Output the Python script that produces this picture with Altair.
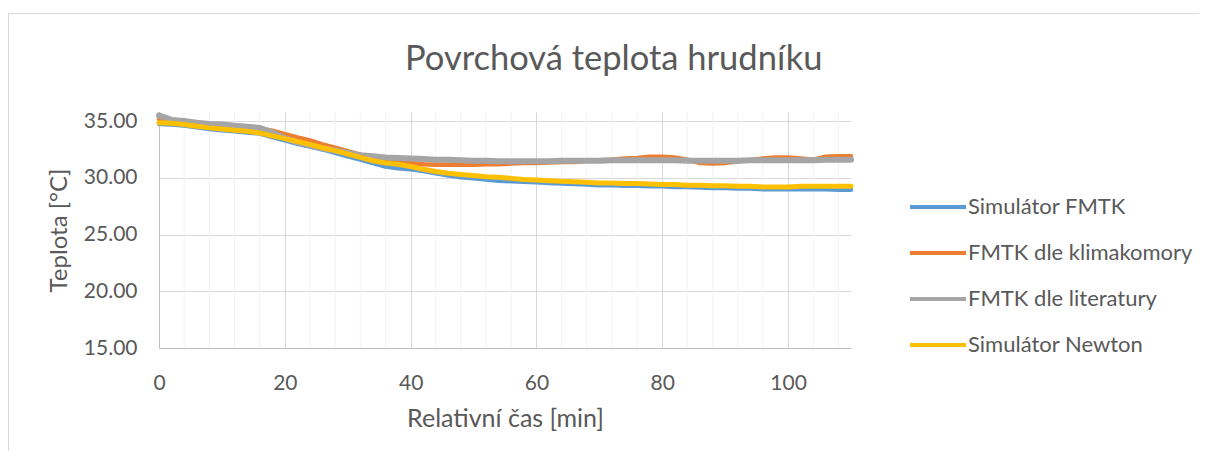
import altair as alt
import pandas as pd

# ---- data ----
t = [0, 2, 4, 6, 8, 10, 12, 14, 16, 18, 20, 22, 24, 26, 28, 30, 32, 34, 36, 38,
     40, 42, 44, 46, 48, 50, 52, 54, 56, 58, 60, 62, 64, 66, 68, 70, 72, 74, 76, 78,
     80, 82, 84, 86, 88, 90, 92, 94, 96, 98, 100, 102, 104, 106, 108, 110]

sim_fmtk = [34.75, 34.7, 34.6, 34.45, 34.3, 34.2, 34.1, 34.0, 33.9, 33.6,
            33.3, 33.0, 32.75, 32.5, 32.2, 31.9, 31.6, 31.3, 31.0, 30.85,
            30.75, 30.6, 30.4, 30.2, 30.05, 29.95, 29.85, 29.75, 29.7, 29.65,
            29.6, 29.55, 29.5, 29.45, 29.4, 29.35, 29.35, 29.3, 29.3, 29.25,
            29.25, 29.2, 29.2, 29.15, 29.1, 29.1, 29.05, 29.05, 29.0, 29.0,
            29.0, 29.0, 29.0, 29.0, 28.95, 28.95]

fmtk_klima = [35.2, 35.05, 34.95, 34.8, 34.7, 34.6, 34.5, 34.4, 34.35, 34.15,
              33.85, 33.55, 33.3, 32.95, 32.65, 32.35, 32.05, 31.75, 31.5, 31.35,
              31.3, 31.2, 31.15, 31.15, 31.15, 31.15, 31.2, 31.2, 31.25, 31.3,
              31.3, 31.35, 31.4, 31.4, 31.5, 31.55, 31.6, 31.7, 31.75, 31.85,
              31.85, 31.8, 31.6, 31.3, 31.25, 31.3, 31.45, 31.55, 31.7, 31.8,
              31.8, 31.7, 31.6, 31.85, 31.9, 31.9]

fmtk_lit = [35.5, 35.1, 35.0, 34.85, 34.75, 34.7, 34.6, 34.5, 34.4, 34.0,
            33.5, 33.15, 32.85, 32.6, 32.4, 32.2, 32.0, 31.9, 31.8, 31.75,
            31.7, 31.65, 31.6, 31.6, 31.55, 31.5, 31.5, 31.45, 31.45, 31.45,
            31.45, 31.45, 31.5, 31.5, 31.5, 31.5, 31.55, 31.55, 31.55, 31.55,
            31.55, 31.55, 31.5, 31.5, 31.5, 31.5, 31.5, 31.55, 31.55, 31.55,
            31.55, 31.55, 31.55, 31.6, 31.6, 31.6]

sim_newton = [34.85, 34.8, 34.7, 34.55, 34.4, 34.3, 34.2, 34.1, 33.95, 33.7,
              33.45, 33.2, 32.95, 32.65, 32.4, 32.1, 31.8, 31.5, 31.3, 31.2,
              31.0, 30.75, 30.55, 30.4, 30.3, 30.2, 30.1, 30.05, 29.95, 29.85,
              29.8, 29.75, 29.7, 29.65, 29.6, 29.55, 29.55, 29.5, 29.5, 29.45,
              29.4, 29.4, 29.35, 29.35, 29.3, 29.3, 29.25, 29.25, 29.2, 29.2,
              29.2, 29.25, 29.25, 29.25, 29.25, 29.25]

series_names = ["Simulátor FMTK", "FMTK dle klimakomory", "FMTK dle literatury", "Simulátor Newton"]
series_colors = ["#5B9BD5", "#ED7D31", "#A5A5A5", "#FFC000"]
series_widths = [4.5, 4.5, 6, 5]

chart_title = "Povrchová teplota hrudníku"
x_title = "Relativní čas [min]"
y_title = "Teplota [°C]"

x_major = [0, 20, 40, 60, 80, 100]
x_minor = [4, 8, 12, 16, 24, 28, 32, 36, 44, 48, 52, 56, 64, 68, 72, 76,
           84, 88, 92, 96, 104, 108]
y_ticks = [15, 20, 25, 30, 35]

# ---- tables ----
rows = []
for name, vals in zip(series_names, [sim_fmtk, fmtk_klima, fmtk_lit, sim_newton]):
    for tt, v in zip(t, vals):
        rows.append({"t": tt, "value": v, "series": name})
df = pd.DataFrame(rows)
minor_df = pd.DataFrame({"t": x_minor})
frame_df = pd.DataFrame({"k": [0]})

FONT = "Lato"
TXT = "#595959"

x_scale = alt.Scale(domain=[0, 110], nice=False, zero=False)
y_scale = alt.Scale(domain=[15, 35.8], nice=False, zero=False)
x_axis = alt.Axis(values=x_major, title=x_title, labelPadding=24, titlePadding=13,
                  labelFlush=False, titleFontSize=25)

minor = alt.Chart(minor_df).mark_rule(color="#F2F2F2", strokeWidth=1).encode(
    x=alt.X("t:Q", scale=x_scale, axis=x_axis)
)

base = alt.Chart(df).encode(
    x=alt.X("t:Q", scale=x_scale, axis=x_axis),
    y=alt.Y("value:Q", scale=y_scale,
            axis=alt.Axis(values=y_ticks, format=".2f", title=y_title,
                          labelPadding=22, titlePadding=12, titleFontSize=24)),
    color=alt.Color("series:N",
                    scale=alt.Scale(domain=series_names, range=series_colors),
                    legend=alt.Legend(title=None, orient="none", legendX=757, legendY=73,
                                      symbolType="M-1.4,0L1.4,0", symbolSize=1600,
                                      symbolStrokeWidth=4, labelOffset=8,
                                      rowPadding=13, labelFont=FONT, labelFontSize=22,
                                      labelColor=TXT, labelLimit=400, padding=0)),
)

lines = [
    base.transform_filter(alt.datum.series == n).mark_line(
        strokeWidth=w, strokeCap="round", strokeJoin="round")
    for n, w in zip(series_names, series_widths)
]

top_border = alt.Chart(frame_df).mark_rule(color="#D9D9D9", strokeWidth=1).encode(
    x=alt.value(-151), x2=alt.value(1045), y=alt.value(-98.5)
)
left_border = alt.Chart(frame_df).mark_rule(color="#D9D9D9", strokeWidth=1).encode(
    x=alt.value(-150.5), y=alt.value(-98.5), y2=alt.value(345)
)
title_text = alt.Chart(frame_df).mark_text(
    font=FONT, fontSize=34.5, color=TXT, align="left", baseline="alphabetic"
).encode(x=alt.value(246), y=alt.value(-42), text=alt.value(chart_title))

chart = alt.layer(minor, *lines, top_border, left_border, title_text).properties(
    width=692, height=236,
    autosize=alt.AutoSizeParams(type="none"),
    padding={"left": 151, "top": 104, "right": 348, "bottom": 103},
).configure_axis(
    labelFont=FONT, labelFontSize=21, labelColor=TXT,
    titleFont=FONT, titleFontSize=22, titleColor=TXT, titleFontWeight="normal",
    ticks=False, domainColor="#BFBFBF", gridColor="#D9D9D9", grid=True,
).configure_view(stroke=None)

chart.save("out.html", embed_options={"renderer": "svg", "actions": False})
